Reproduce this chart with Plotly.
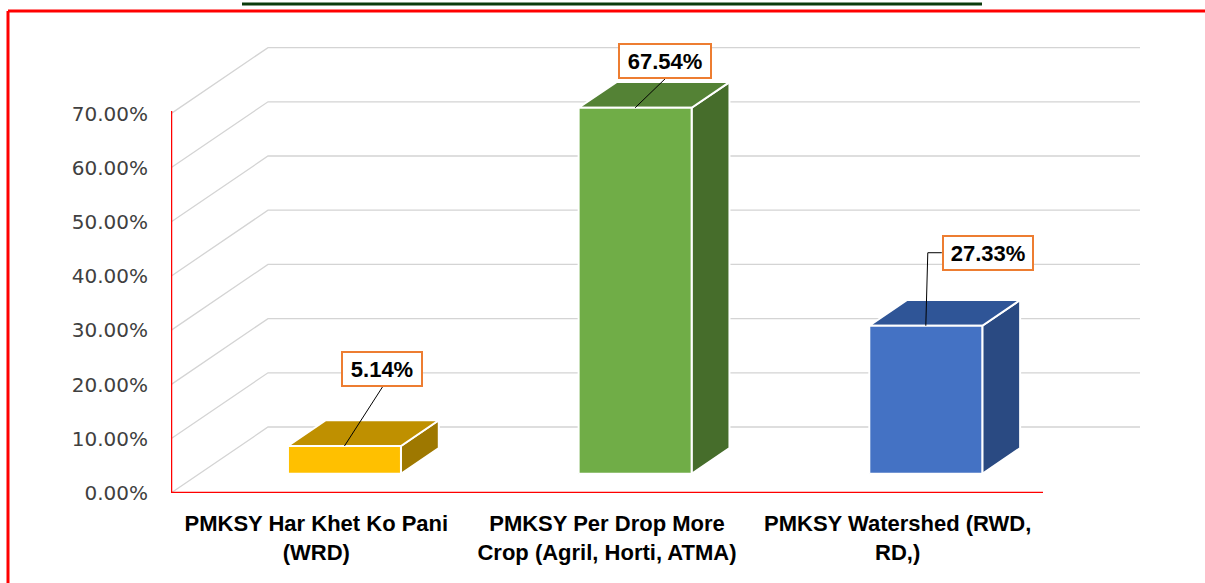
import plotly.graph_objects as go

# ---------------- data ----------------
categories = [
    "PMKSY Har Khet Ko Pani<br>(WRD)",
    "PMKSY Per Drop More<br>Crop (Agril, Horti, ATMA)",
    "PMKSY Watershed (RWD,<br>RD,)",
]
values = [5.14, 67.54, 27.33]
value_labels = ["5.14%", "67.54%", "27.33%"]
y_ticks = [0, 10, 20, 30, 40, 50, 60, 70]
y_tick_labels = ["0.00%", "10.00%", "20.00%", "30.00%", "40.00%", "50.00%", "60.00%", "70.00%"]

# ---------------- style ----------------
front_colors = ["#FFC000", "#70AD47", "#4472C4"]
top_colors = ["#BF9000", "#548235", "#2F5597"]
side_colors = ["#9E7800", "#466D2B", "#2A4A82"]

W, H = 1205, 583
ML, MR, MT, MB = 171, 62, 20, 90
PX_PER_X = 872 / 3.0
PX_PER_Y = 5.42
X0 = -0.5
x_range = [X0, X0 + (W - ML - MR) / PX_PER_X]
y_range = [0, (H - MT - MB) / PX_PER_Y]

DEPTH_X = 97 / PX_PER_X
DEPTH_Y = 66 / PX_PER_Y
BAR_FRONT = 0.29
BAR_BACK = 0.68
BAR_HALF = 56.5 / PX_PER_X

# label box placement (pixels, relative to bar top front centre; screen y down)
label_offsets = [(38, -77), (30, -47), (62, -73)]
label_box_w = [82, 94, 92]
label_box_h = 36
leader_style = ["down", "down", "elbow"]


def px2paper_x(px):
    return (px - ML) / (W - ML - MR)


def px2paper_y(py):
    return (H - MB - py) / (H - MT - MB)


fig = go.Figure()

# perspective walls gridlines
for v in y_ticks:
    fig.add_trace(go.Scatter(
        x=[X0, X0 + DEPTH_X, X0 + len(categories) + DEPTH_X],
        y=[v, v + DEPTH_Y, v + DEPTH_Y],
        mode="lines", line=dict(color="#D4D4D4", width=1.3),
        hoverinfo="skip", showlegend=False))

annotations = []
for i, v in enumerate(values):
    cx = i
    fx = cx + BAR_FRONT * DEPTH_X
    fy = BAR_FRONT * DEPTH_Y
    bx = cx + BAR_BACK * DEPTH_X
    by = BAR_BACK * DEPTH_Y
    h = BAR_HALF
    faces = [
        ([fx + h, bx + h, bx + h, fx + h, fx + h], [fy, by, by + v, fy + v, fy], side_colors[i]),
        ([fx - h, fx + h, bx + h, bx - h, fx - h], [fy + v, fy + v, by + v, by + v, fy + v], top_colors[i]),
        ([fx - h, fx + h, fx + h, fx - h, fx - h], [fy, fy, fy + v, fy + v, fy], front_colors[i]),
    ]
    for xs, ys, col in faces:
        fig.add_trace(go.Scatter(
            x=xs, y=ys, mode="lines", fill="toself", fillcolor=col,
            line=dict(color="white", width=2), hoverinfo="skip", showlegend=False))

    # label box
    tx, ty = fx, fy + v
    ox, oy = label_offsets[i]
    lx = tx + ox / PX_PER_X
    ly = ty - oy / PX_PER_Y
    half_h = label_box_h / 2 / PX_PER_Y
    half_w = label_box_w[i] / 2 / PX_PER_X
    if leader_style[i] == "down":
        lxs = [lx, tx]
        lys = [ly - half_h, ty]
    else:
        lxs = [lx - half_w, tx + 2 / PX_PER_X, tx]
        lys = [ly, ly, ty]
    fig.add_trace(go.Scatter(
        x=lxs, y=lys, mode="lines", line=dict(color="black", width=1),
        hoverinfo="skip", showlegend=False))
    annotations.append(dict(
        x=lx, y=ly, xref="x", yref="y", text="<b>" + value_labels[i] + "</b>",
        showarrow=False, xanchor="center", yanchor="middle",
        font=dict(family="Liberation Sans, Arial, sans-serif", size=22, color="black"),
        bgcolor="white", bordercolor="#ED7D31", borderwidth=2, borderpad=3,
        width=label_box_w[i] - 10, height=label_box_h - 10))

shapes = [
    # front axes (red)
    dict(type="line", xref="x", yref="y", x0=X0, y0=0, x1=X0 + len(categories), y1=0,
         line=dict(color="#FF0000", width=2.5)),
    dict(type="line", xref="x", yref="y", x0=X0, y0=0, x1=X0, y1=70.5,
         line=dict(color="#FF0000", width=2.5)),
    # outer red frame
    dict(type="line", xref="paper", yref="paper", x0=px2paper_x(8), y0=px2paper_y(11),
         x1=px2paper_x(1210), y1=px2paper_y(11), line=dict(color="#FF0000", width=3)),
    dict(type="line", xref="paper", yref="paper", x0=px2paper_x(8), y0=px2paper_y(11),
         x1=px2paper_x(8), y1=px2paper_y(590), line=dict(color="#FF0000", width=3)),
    # title underline (cut off title above)
    dict(type="line", xref="paper", yref="paper", x0=px2paper_x(242), y0=px2paper_y(4),
         x1=px2paper_x(982), y1=px2paper_y(4), line=dict(color="#0B3B0B", width=3)),
]

fig.update_layout(
    width=W, height=H,
    margin=dict(l=ML, r=MR, t=MT, b=MB),
    paper_bgcolor="white", plot_bgcolor="white",
    showlegend=False,
    shapes=shapes,
    annotations=annotations,
    xaxis=dict(range=x_range, showgrid=False, zeroline=False, showline=False,
               tickmode="array", tickvals=list(range(len(categories))),
               ticktext=["<b>" + c.replace("<br>", "</b><br><b>") + "</b>" for c in categories],
               tickfont=dict(family="Liberation Sans, Arial, sans-serif", size=22, color="black"),
               ticks="", ticklabelstandoff=15, fixedrange=True),
    yaxis=dict(range=y_range, showgrid=False, zeroline=False, showline=False,
               tickmode="array", tickvals=y_ticks, ticktext=y_tick_labels,
               tickfont=dict(family="DejaVu Sans, Verdana, sans-serif", size=20, color="#404040"),
               ticks="", ticklabelstandoff=22, fixedrange=True),
)

fig.write_html(
    "out.html",
    config={"displayModeBar": False},
    post_script="document.body.style.margin='0px';document.body.style.padding='0px';",
)
